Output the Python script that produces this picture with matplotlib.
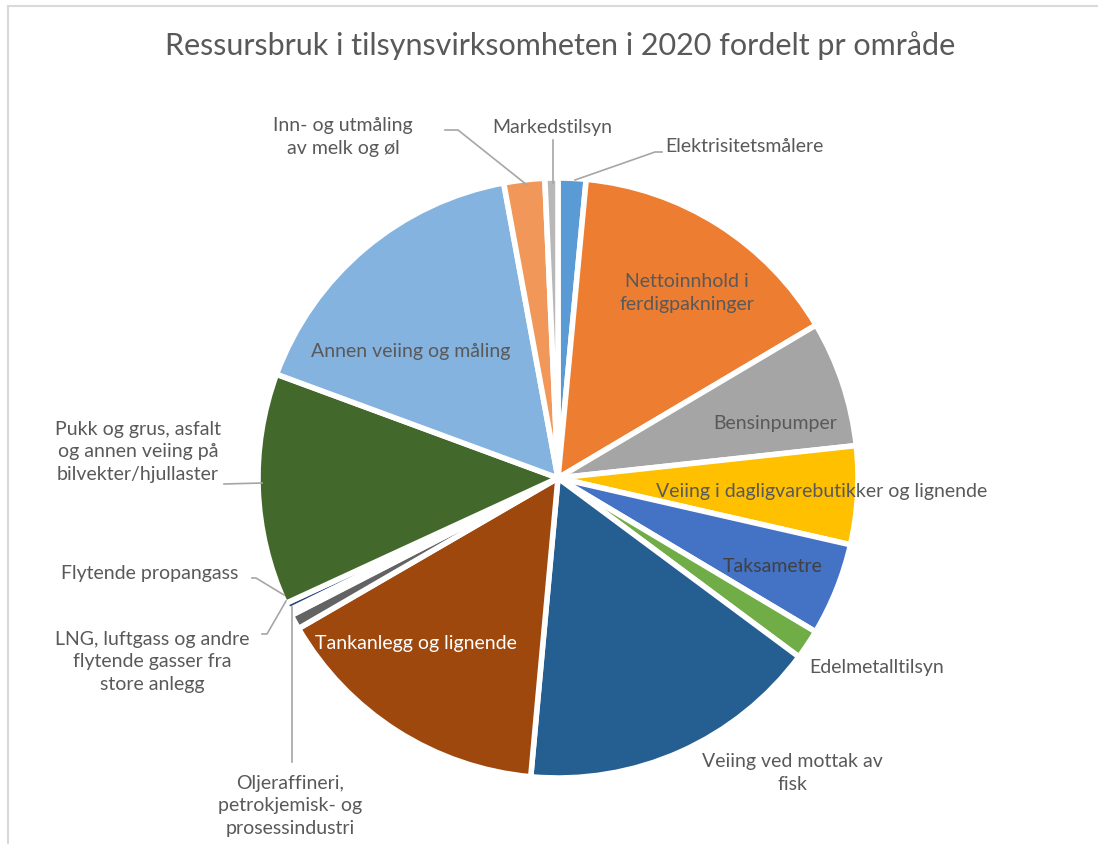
import matplotlib
matplotlib.use("Agg")
import matplotlib.pyplot as plt
from matplotlib.lines import Line2D

categories = [
    "Elektrisitetsmålere",
    "Nettoinnhold i\nferdigpakninger",
    "Bensinpumper",
    "Veiing i dagligvarebutikker og lignende",
    "Taksametre",
    "Edelmetalltilsyn",
    "Veiing ved mottak av\nfisk",
    "Tankanlegg og lignende",
    "Oljeraffineri,\npetrokjemisk- og\nprosessindustri",
    "LNG, luftgass og andre\nflytende gasser fra\nstore anlegg",
    "Flytende propangass",
    "Pukk og grus, asfalt\nog annen veiing på\nbilvekter/hjullaster",
    "Annen veiing og måling",
    "Inn- og utmåling\nav melk og øl",
    "Markedstilsyn",
]
values = [1.5, 15.0, 6.8, 5.3, 5.0, 1.6, 16.3, 15.2, 0.8, 0.3, 0.4, 12.5, 16.5, 2.2, 0.7]
colors = ["#5B9BD5", "#ED7D31", "#A5A5A5", "#FFC000", "#4472C4", "#70AD47",
          "#255E91", "#9E480E", "#636363", "#997300", "#264478", "#43682B",
          "#85B3E0", "#F1975A", "#B7B7B7"]

W, H = 1098, 844
fig = plt.figure(figsize=(W / 100, H / 100), dpi=100)
ax = fig.add_axes([0, 0, 1, 1])

FONT = "Lato"
TC = "#595959"

def Y(y):
    return H - y

cx, cy, R = 558, 478, 300
ax.pie(values, colors=colors, startangle=90, counterclock=False,
       center=(cx, Y(cy)), radius=R, frame=True,
       wedgeprops=dict(edgecolor="white", linewidth=4))
ax.set_xlim(0, W)
ax.set_ylim(0, H)
ax.axis("off")
ax.set_aspect("equal")

# chart frame (top and left edges)
fig.add_artist(Line2D([8 / W, 1], [1 - 6 / H, 1 - 6 / H], color="#D9D9D9", lw=1.5, transform=fig.transFigure))
fig.add_artist(Line2D([8 / W, 8 / W], [0, 1 - 6 / H], color="#D9D9D9", lw=1.5, transform=fig.transFigure))

ax.text(560, Y(46), "Ressursbruk i tilsynsvirksomheten i 2020 fordelt pr område",
        ha="center", va="center", fontsize=22, color=TC, family=FONT)

fs = 14
def lab(x, y, s, ha="center", color=TC):
    ax.text(x, Y(y), s, ha=ha, va="center", fontsize=fs, color=color,
            family=FONT, linespacing=1.38)

def line(pts):
    xs = [p[0] for p in pts]
    ys = [Y(p[1]) for p in pts]
    ax.plot(xs, ys, color="#A6A6A6", lw=1.2)

# inside labels
lab(687, 293, categories[1])
lab(775, 423, categories[2])
lab(822, 492, categories[3])
lab(773, 567, categories[4], color="#404040")
lab(416, 644, categories[7], color="white")
lab(411, 352, categories[12])
lab(792, 773, categories[6])

# outside labels
lab(665, 147, categories[0], ha="left")
line([(575, 180), (655, 152), (662, 152)])
lab(552, 127, categories[14])
line([(553, 140), (553, 183)])
lab(343, 137, categories[13])
line([(445, 130), (458, 130), (527, 185)])
lab(138, 452, categories[11])
line([(224, 484), (262, 483)])
lab(150, 573, categories[10])
line([(252, 578), (256, 578), (284, 595)])
lab(152, 662, categories[9])
line([(262, 634), (267, 634), (286, 601)])
lab(290, 806, categories[8])
line([(292, 607), (292, 762)])
lab(877, 668, categories[5])

fig.savefig("out.png", dpi=100, facecolor="white")
